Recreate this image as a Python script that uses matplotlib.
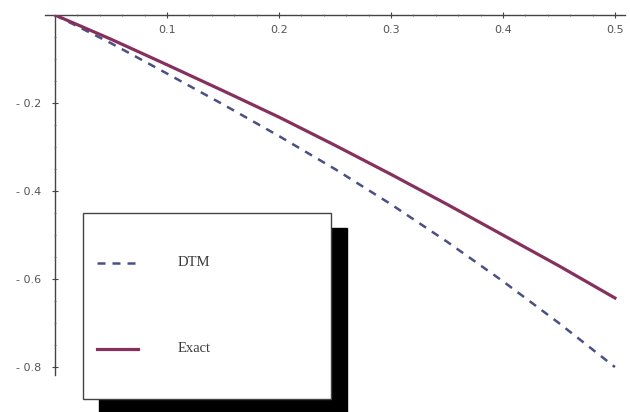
import matplotlib.pyplot as plt
from matplotlib.patches import Rectangle
from matplotlib.lines import Line2D
import numpy as np

# values
x = [0.0, 0.05, 0.1, 0.15, 0.2, 0.25, 0.3, 0.35, 0.4, 0.45, 0.5]
exact = [0.0, -0.055, -0.113, -0.172, -0.232, -0.296, -0.362, -0.43, -0.5, -0.57, -0.643]
dtm = [0.0, -0.064, -0.133, -0.203, -0.275, -0.35, -0.43, -0.515, -0.605, -0.70, -0.80]

xticks = [0.1, 0.2, 0.3, 0.4, 0.5]
yticks = [-0.2, -0.4, -0.6, -0.8]

W, H = 630, 412
fig = plt.figure(figsize=(W / 100, H / 100), dpi=100)
ax = fig.add_axes([45 / W, 1 - 375 / H, 580 / W, 360 / H])

ax.plot(x, dtm, color='#4b4f86', lw=1.8, dashes=(3.2, 2.8))
ax.plot(x, exact, color='#86305e', lw=2.3)

ax.set_xlim(-0.0089, 0.509)
ax.set_ylim(-0.818, 0.0)
ax.spines['left'].set_position(('data', 0))
ax.spines['bottom'].set_position(('data', 0))
ax.spines['top'].set_visible(False)
ax.spines['right'].set_visible(False)
for s in ('left', 'bottom'):
    ax.spines[s].set_color('#444444')
    ax.spines[s].set_linewidth(1.0)
    ax.spines[s].set_zorder(0.5)

ax.set_xticks(xticks)
ax.set_xticklabels(['%g' % v for v in xticks])
ax.set_yticks(yticks)
ax.set_yticklabels(['- %g' % abs(v) for v in yticks])
ax.set_xticks(np.arange(0.02, 0.51, 0.02), minor=True)
ax.set_yticks(np.arange(-0.05, -0.81, -0.05), minor=True)
ax.tick_params(which='major', direction='inout', length=4, width=0.8,
               color='#444444', labelsize=8, labelcolor='#555555', pad=5)
ax.tick_params(axis='y', which='major', pad=8)
ax.tick_params(which='minor', direction='inout', length=2, width=0.6,
               color='#666666')
ax.patch.set_visible(False)

# legend box with black drop shadow
def fx(p):
    return p / W

def fy(p):
    return 1 - p / H

fig.patches.append(Rectangle((fx(99), fy(414)), 248 / W, 186 / H,
                             transform=fig.transFigure, color='black', zorder=5))
fig.patches.append(Rectangle((fx(83), fy(399)), 248 / W, 186 / H,
                             transform=fig.transFigure, facecolor='white',
                             edgecolor='#444444', lw=1.0, zorder=6))
fig.lines.append(Line2D([fx(97), fx(138)], [fy(263), fy(263)], transform=fig.transFigure,
                        color='#4b4f86', lw=1.8, dashes=(3.2, 2.8), zorder=7))
fig.lines.append(Line2D([fx(97), fx(138)], [fy(349), fy(349)], transform=fig.transFigure,
                        color='#86305e', lw=2.3, zorder=7))
fig.text(fx(178), fy(263), 'DTM', family='Liberation Serif', fontsize=10.5,
         color='#3a3a3a', va='center', zorder=8)
fig.text(fx(178), fy(349), 'Exact', family='Liberation Serif', fontsize=10.5,
         color='#3a3a3a', va='center', zorder=8)

fig.savefig('out.png', dpi=100)
